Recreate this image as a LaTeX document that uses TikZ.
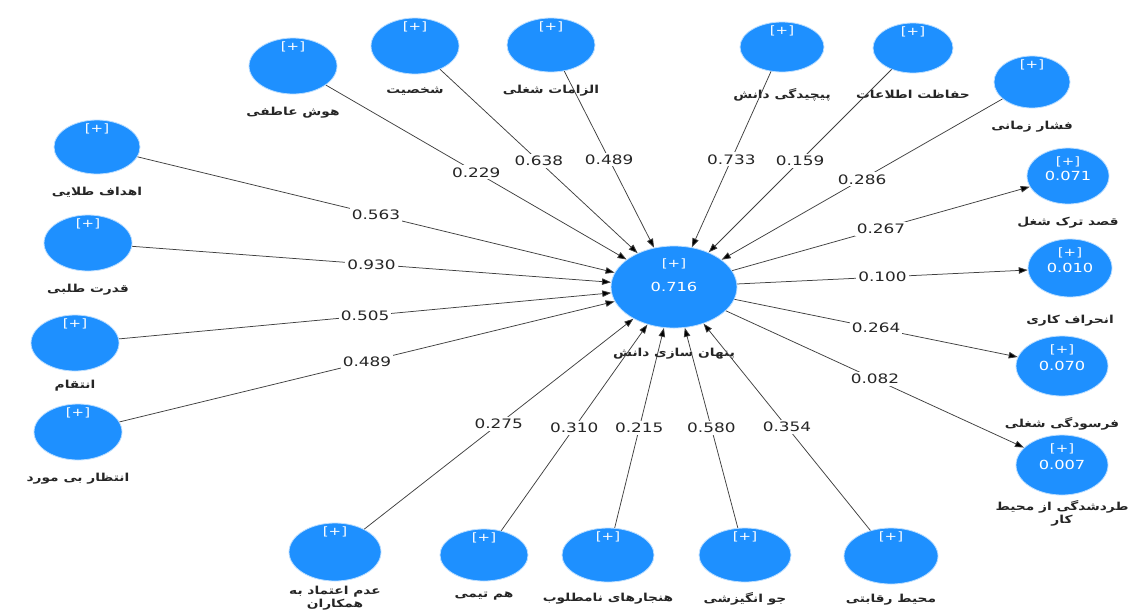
\documentclass[tikz,border=0pt]{standalone}
\usepackage{fontspec}
\usetikzlibrary{shapes.geometric,arrows.meta}
\TeXXeTstate=1
\newfontfamily\fa[Script=Arabic, FakeStretch=1.25]{DejaVu Sans}
\newfontfamily\numfont[FakeStretch=1.3]{DejaVu Sans}
\definecolor{plsblue}{RGB}{30,144,255}
\tikzset{
  lvbase/.style={ellipse, fill=plsblue, draw=plsblue!30, line width=0.8pt,
    minimum width=88pt, minimum height=56pt, inner sep=0pt,
    text=white, font=\fontsize{12.5}{14}\numfont},
  lv/.style={lvbase, label={[plustag]north:{[+]}}},
  lvval/.style={lvbase, label={[plustag=23pt]north:{[+]}}},
  plustag/.style={text=white, font=\fontsize{11.5}{13}\numfont, yshift=-#1},
  plustag/.default=18pt,
  lbl/.style={font=\fontsize{11}{13}\fa\bfseries, text=black!85,
    align=center, yshift=-#1},
  lbl/.default=9pt,
  coef/.style={fill=white, inner sep=2pt, text=black!85,
    font=\fontsize{13}{15}\numfont},
  rel/.style={draw=black!75, line width=0.75pt,
    -{Triangle[length=9pt,width=6.5pt,fill=black]}}
}
\begin{document}
\begin{tikzpicture}[x=1pt, y=-1pt]
    \useasboundingbox[fill=white] (0,0) rectangle (1145,614);

    % 中央の変数
    \node[lvbase, minimum width=126pt, minimum height=82pt,
      label={[plustag=27pt]north:{[+]}},
      label={[lbl=16pt]below:\beginR پنهان سازی دانش\endR}] (k) at (674,287) {0.716};

    % 上段
    \node[lv, label={[lbl]below:\beginR هوش عاطفی\endR}] (ei) at (293,66) {};
    \node[lv, label={[lbl]below:\beginR شخصیت\endR}] (per) at (415,46) {};
    \node[lv, minimum height=54pt, label={[lbl]below:\beginR الزامات شغلی\endR}] (job) at (551,45) {};
    \node[lv, minimum width=84pt, minimum height=50pt,
      label={[lbl=13pt]below:\beginR پیچیدگی دانش\endR}] (cpx) at (782,47) {};
    \node[lv, minimum width=80pt, minimum height=50pt,
      label={[lbl=13pt]below:\beginR حفاظت اطلاعات\endR}] (sec) at (913,48) {};
    \node[lv, minimum width=76pt, minimum height=52pt,
      label={[lbl]below:\beginR فشار زمانی\endR}] (tim) at (1032,82) {};

    % 左側
    \node[lv, minimum width=86pt, minimum height=54pt,
      label={[lbl]below:\beginR اهداف طلایی\endR}] (goal) at (97,147) {};
    \node[lv, label={[lbl]below:\beginR قدرت طلبی\endR}] (pow) at (88,243) {};
    \node[lv, label={[lbl=5pt]below:\beginR انتقام\endR}] (rev) at (75,343) {};
    \node[lv, label={[lbl]below:\beginR انتظار بی مورد\endR}] (unexp) at (78,432) {};

    % 下段
    \node[lv, minimum width=92pt, minimum height=58pt,
      label={[lbl=1pt]below:{\beginR عدم اعتماد به\endR\\\beginR همکاران\endR}}] (dis) at (335,552) {};
    \node[lv, minimum height=52pt, label={[lbl=7pt]below:\beginR هم تیمی\endR}] (team) at (484,555) {};
    \node[lv, minimum width=92pt, minimum height=54pt,
      label={[lbl=7pt]below:\beginR هنجارهای نامطلوب\endR}] (norm) at (608,555) {};
    \node[lv, minimum width=92pt, minimum height=54pt,
      label={[lbl=7pt]below:\beginR جو انگیزشی\endR}] (mot) at (745,555) {};
    \node[lv, minimum width=94pt, minimum height=56pt,
      label={[lbl=6pt]below:\beginR محیط رقابتی\endR}] (comp) at (891,556) {};

    % 右側(結果変数)
    \node[lvval, minimum width=82pt, label={[lbl]below:\beginR قصد ترک شغل\endR}] (ti) at (1068,176) {0.071};
    \node[lvval, minimum width=84pt, minimum height=58pt,
      label={[lbl=14pt]below:\beginR انحراف کاری\endR}] (dev) at (1070,268) {0.010};
    \node[lvval, minimum width=92pt, minimum height=60pt,
      label={[lbl=18pt]below:\beginR فرسودگی شغلی\endR}] (bur) at (1062,366) {0.070};
    \node[lvval, minimum width=92pt, minimum height=60pt,
      label={[lbl=2pt]below:{\beginR طردشدگی از محیط\endR\\\beginR کار\endR}}] (ost) at (1062,465) {0.007};

    % 中央へ向かう矢印
    \foreach \src/\val in {ei/0.229, per/0.638, job/0.489, cpx/0.733, sec/0.159,
        tim/0.286, goal/0.563, pow/0.930, rev/0.505, unexp/0.489, dis/0.275,
        team/0.310, norm/0.215, mot/0.580, comp/0.354}
        \draw[rel] (\src) -- node[coef] {\val} (k);

    % 中央から出る矢印
    \foreach \dst/\val in {ti/0.267, dev/0.100, bur/0.264, ost/0.082}
        \draw[rel] (k) -- node[coef] {\val} (\dst);
\end{tikzpicture}
\end{document}
